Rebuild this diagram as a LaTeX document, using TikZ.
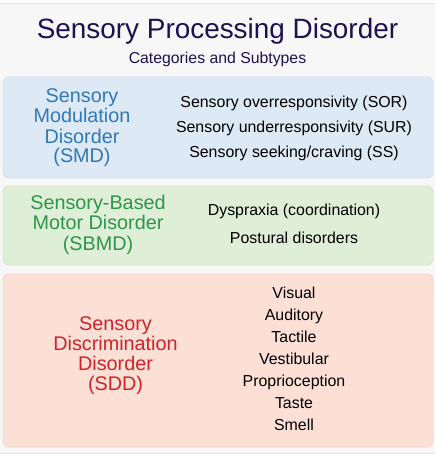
\documentclass[tikz,border=0pt]{standalone}
\usepackage{fontspec}
\setmainfont{Liberation Sans}
\usepackage{tikz}

\definecolor{titlecol}{HTML}{1F1150}
\definecolor{smdfill}{HTML}{DDE9F5}
\definecolor{smdline}{HTML}{D2E0EF}
\definecolor{smdtext}{HTML}{3079B8}
\definecolor{sbmdfill}{HTML}{DFEED6}
\definecolor{sbmdline}{HTML}{D4E6CA}
\definecolor{sbmdtext}{HTML}{2E9549}
\definecolor{sddfill}{HTML}{FCE0D5}
\definecolor{sddline}{HTML}{F3D5CA}
\definecolor{sddtext}{HTML}{D0222B}
\definecolor{pagebg}{HTML}{F7F7F7}
\definecolor{pageline}{HTML}{E3E3E6}

\tikzset{
    cat/.style={anchor=base, inner sep=0pt, font=\fontsize{19.8}{20}\selectfont},
    item/.style={anchor=base, inner sep=0pt, text=black, font=\fontsize{15.9}{18}\selectfont},
    panel/.style={rounded corners=6pt, line width=0.8pt}
}

\begin{document}
\begin{tikzpicture}[x=1pt, y=-1pt]
            \useasboundingbox (0,0) rectangle (435,457);
            \fill[white] (0,0) rectangle (435,457);
            \draw[pageline, fill=pagebg]  (-1,3.5) rectangle (436, 453.5);

            \node[anchor=base, inner sep=0pt, text=titlecol, font=\fontsize{27.9}{30}\selectfont] (title) at (217.5, 38.5) {Sensory Processing Disorder};
            \node[anchor=base, inner sep=0pt, text=titlecol, font=\fontsize{15.8}{18}\selectfont] (subtitle) at (217.5, 64) {Categories and Subtypes};

            % modulation
            \draw[panel, smdline, fill=smdfill]  (3, 77) rectangle (433, 178);
            \node[cat, text=smdtext] (smd1) at (82, 103) {Sensory};
            \node[cat, text=smdtext] (smd2) at (82, 123) {Modulation};
            \node[cat, text=smdtext] (smd3) at (82, 143) {Disorder};
            \node[cat, text=smdtext] (smd4) at (82, 162) {(SMD)};
            \node[item] (sor) at (294, 107.5) {Sensory overresponsivity (SOR)};
            \node[item] (sur) at (294, 132.5) {Sensory underresponsivity (SUR)};
            \node[item] (ss)  at (294, 157.5) {Sensory seeking/craving (SS)};

            % motor
            \draw[panel, sbmdline, fill=sbmdfill]  (3, 186) rectangle (433, 265);
            \node[cat, text=sbmdtext] (sbmd1) at (98, 209) {Sensory-Based};
            \node[cat, text=sbmdtext] (sbmd2) at (98, 229.5) {Motor Disorder};
            \node[cat, text=sbmdtext] (sbmd3) at (98, 250) {(SBMD)};
            \node[item] (dysp) at (294, 215.5) {Dyspraxia (coordination)};
            \node[item] (post) at (294, 243.5) {Postural disorders};

            % discrimination
            \draw[panel, sddline, fill=sddfill]  (3, 274) rectangle (433, 447);
            \node[cat, text=sddtext] (sdd1) at (115.5, 330) {Sensory};
            \node[cat, text=sddtext] (sdd2) at (115.5, 350) {Discrimination};
            \node[cat, text=sddtext] (sdd3) at (115.5, 370) {Disorder};
            \node[cat, text=sddtext] (sdd4) at (115.5, 390) {(SDD)};
            \node[item] (vis)  at (294, 298) {Visual};
            \node[item] (aud)  at (294, 320) {Auditory};
            \node[item] (tac)  at (294, 342) {Tactile};
            \node[item] (vest) at (294, 364) {Vestibular};
            \node[item] (prop) at (294, 386) {Proprioception};
            \node[item] (tas)  at (294, 408) {Taste};
            \node[item] (sme)  at (294, 430) {Smell};
\end{tikzpicture}
\end{document}
